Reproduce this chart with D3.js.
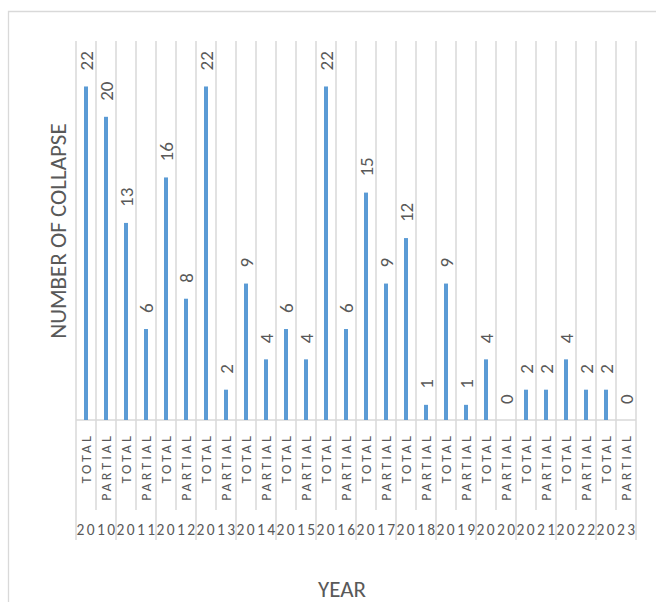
<!DOCTYPE html>
<html>
<head>
<meta charset="utf-8">
<script src="https://cdn.jsdelivr.net/npm/d3@7"></script>
<style>
  html, body { margin: 0; padding: 0; background: #ffffff; }
  svg { display: block; }
  text { font-family: Calibri, Carlito, Lato, "Open Sans", sans-serif; fill: #595959; font-weight: 300; }
</style>
</head>
<body>
<svg id="chart" width="656" height="602"></svg>
<script>
// Collapses per year, split into total and partial collapses
const years = ["2010", "2011", "2012", "2013", "2014", "2015", "2016",
               "2017", "2018", "2019", "2020", "2021", "2022", "2023"];
const types = ["TOTAL", "PARTIAL"];
const totalCollapses   = [22, 13, 16, 22, 9, 6, 22, 15, 12, 9, 4, 2, 4, 2];
const partialCollapses = [20, 6, 8, 2, 4, 4, 6, 9, 1, 1, 0, 2, 2, 0];
const yDomainMax = 25;

const rows = [];
years.forEach((yr, i) => {
  rows.push({ key: yr + "-TOTAL", year: yr, type: types[0], value: totalCollapses[i] });
  rows.push({ key: yr + "-PARTIAL", year: yr, type: types[1], value: partialCollapses[i] });
});

const svg = d3.select("#chart");
const grid = "#d9d9d9";
const plot = { left: 76, right: 636, top: 41, bottom: 420 };

// Outer chart frame
svg.append("path")
  .attr("d", `M8.5,602 V11.5 H656`)
  .attr("fill", "none").attr("stroke", grid).attr("stroke-width", 1.3);

const x = d3.scaleBand().domain(rows.map(d => d.key))
  .range([plot.left, plot.right]).paddingInner(0).paddingOuter(0);
const xYear = d3.scaleBand().domain(years).range([plot.left, plot.right]);
const y = d3.scaleLinear().domain([0, yDomainMax]).range([plot.bottom, plot.top]);

// Vertical gridlines at category boundaries
const boundaries = rows.map(d => x(d.key)).concat([plot.right]);
svg.append("g").selectAll("line").data(boundaries).join("line")
  .attr("x1", d => d).attr("x2", d => d)
  .attr("y1", plot.top).attr("y2", plot.bottom)
  .attr("stroke", grid).attr("stroke-width", 1.5);

// Category axis line
svg.append("line")
  .attr("x1", plot.left).attr("x2", plot.right)
  .attr("y1", plot.bottom).attr("y2", plot.bottom)
  .attr("stroke", grid).attr("stroke-width", 1.5);

// Inner level separators (between TOTAL and PARTIAL)
svg.append("g").selectAll("line").data(rows.filter(d => d.type === "PARTIAL")).join("line")
  .attr("x1", d => x(d.key)).attr("x2", d => x(d.key))
  .attr("y1", plot.bottom).attr("y2", 510)
  .attr("stroke", grid).attr("stroke-width", 1.5);

// Outer level separators (between years)
const yearEdges = years.map(d => xYear(d)).concat([plot.right]);
svg.append("g").selectAll("line").data(yearEdges).join("line")
  .attr("x1", d => d).attr("x2", d => d)
  .attr("y1", plot.bottom).attr("y2", 540)
  .attr("stroke", grid).attr("stroke-width", 1.5);

// Bars
const barW = 4;
svg.append("g").selectAll("rect").data(rows).join("rect")
  .attr("x", d => x(d.key) + x.bandwidth() / 2 - barW / 2)
  .attr("width", barW)
  .attr("y", d => y(d.value))
  .attr("height", d => y(0) - y(d.value))
  .attr("fill", "#5b9bd5");

// Value labels, rotated
svg.append("g").selectAll("text").data(rows).join("text")
  .attr("transform", d => `translate(${x(d.key) + x.bandwidth() / 2},${y(d.value) - 16}) rotate(-90)`)
  .attr("dy", "0.36em")
  .attr("text-anchor", "start")
  .style("font-size", "19px")
  .text(d => d.value);

// Category labels (inner level)
svg.append("g").selectAll("text").data(rows).join("text")
  .attr("transform", d => `translate(${x(d.key) + x.bandwidth() / 2},433) rotate(-90)`)
  .attr("dy", "0.36em")
  .attr("text-anchor", "end")
  .style("font-size", "14px")
  .style("letter-spacing", "3.1px")
  .text(d => d.type);

// Year labels (outer level)
svg.append("g").selectAll("text").data(years).join("text")
  .attr("x", d => xYear(d) + 0.5)
  .attr("y", 535)
  .attr("text-anchor", "start")
  .style("font-size", "15.5px")
  .style("letter-spacing", "2.4px")
  .text(d => d);

// Axis titles
svg.append("text")
  .attr("transform", "translate(58,231) rotate(-90)")
  .attr("dy", "0.36em")
  .attr("text-anchor", "middle")
  .style("font-size", "23px")
  .text("NUMBER OF COLLAPSE");

svg.append("text")
  .attr("x", 342).attr("y", 597)
  .attr("text-anchor", "middle")
  .style("font-size", "23px")
  .text("YEAR");
</script>
</body>
</html>
